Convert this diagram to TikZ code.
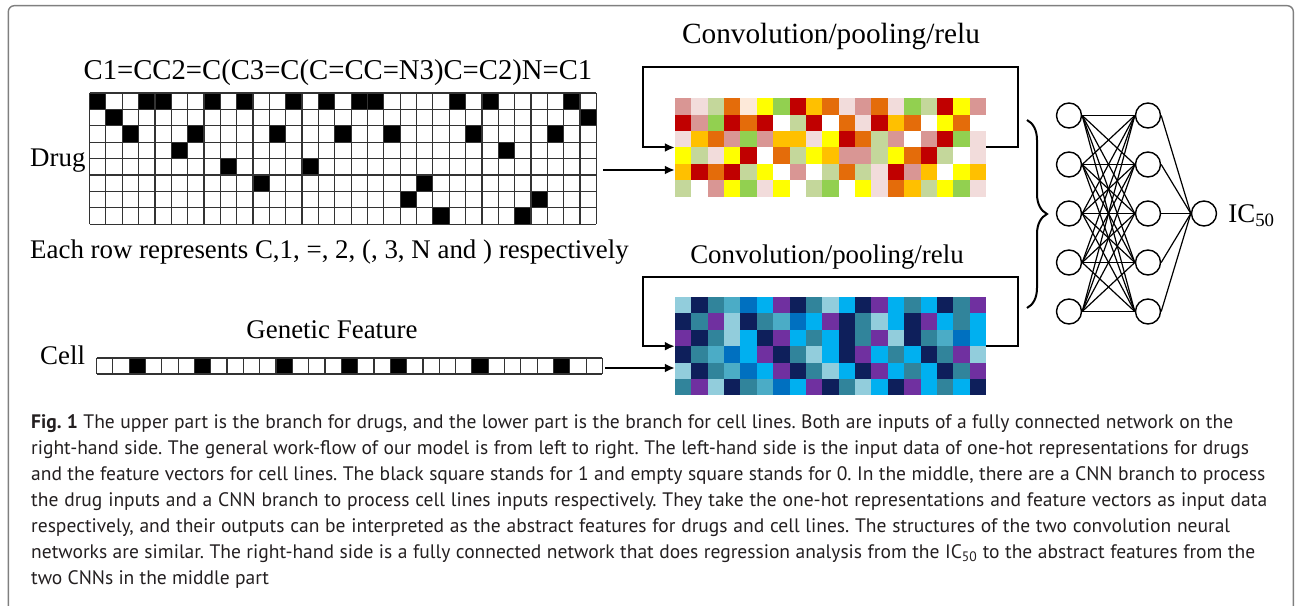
\documentclass[tikz,border=0pt]{standalone}
\usepackage{fontspec}
\setmainfont{Liberation Serif}
\newfontfamily\capfont{PT Sans}
\usetikzlibrary{arrows.meta,decorations.pathreplacing}

% warm palette of the drug feature map
\definecolor{hr}{HTML}{C00000}
\definecolor{ho}{HTML}{E46C0A}
\definecolor{ha}{HTML}{FFC000}
\definecolor{hy}{HTML}{FFFF00}
\definecolor{hg}{HTML}{92D050}
\definecolor{hl}{HTML}{C4D79B}
\definecolor{hp}{HTML}{D99694}
\definecolor{hq}{HTML}{F2DCDB}
\definecolor{he}{HTML}{FDE9D9}
\definecolor{hw}{HTML}{FFFFFF}
% cool palette of the cell-line feature map
\definecolor{bn}{HTML}{0E1F5B}
\definecolor{bt}{HTML}{31849B}
\definecolor{bl}{HTML}{92CDDC}
\definecolor{bm}{HTML}{4BACC6}
\definecolor{bb}{HTML}{0070C0}
\definecolor{bc}{HTML}{00B0F0}
\definecolor{bv}{HTML}{7030A0}
\definecolor{capgray}{HTML}{231F20}
\definecolor{framegray}{HTML}{7F7F7F}

% one caption line, spread to a given width
\newcommand{\capto}[2]{\makebox[#1][s]{#2}}

\begin{document}
\begin{tikzpicture}[x=1bp,y=-1bp,
  lbl/.style={font=\fontsize{27}{30}\selectfont, inner sep=0},
  gridline/.style={draw=black!80, line width=1.2bp},
  link/.style={line width=2bp, -{Latex[length=10bp,width=9bp]}},
  fmap/.style={draw=none, inner sep=0, minimum width=311bp, minimum height=98.4bp},
  neuron/.style={circle, draw, line width=1.4bp, minimum size=25bp, inner sep=0, fill=white},
  syn/.style={line width=1.2bp},
  capline/.style={font=\capfont\fontsize{19.6}{22}\selectfont\frenchspacing, text=capgray, anchor=base west, inner sep=0},
  outline/.style={draw=framegray, line width=1.4bp, rounded corners=6bp}]

\useasboundingbox (0,0) rectangle (1295,606);

% outer frame (open at the bottom)
\draw[outline] (8.3,606) -- (8.3,5.7) -- (1293.3,5.7) -- (1293.3,606);

% ---------------- drug one-hot matrix ----------------
\def\gx{89.5}\def\gy{93}\def\cw{16.35}\def\ch{16.4}
\foreach \cols [count=\r from 0] in {{0,3,4,7,9,12,14,16,17,22,24,29},{1,30},{2,6,11,15,18,23,28},{5,25},{8,13},{10,20},{19,27},{21,26}}
  \foreach \k in \cols
    \fill (\gx+\k*\cw, \gy+\r*\ch) rectangle ++(\cw,\ch);
\foreach \i in {0,...,31}
  \draw[gridline] (\gx+\i*\cw, \gy) -- ++(0, 8*\ch);
\foreach \j in {0,...,8}
  \draw[gridline] (\gx, \gy+\j*\ch) -- ++(31*\cw, 0);
\node[draw=none, inner sep=0, minimum width=506.9bp, minimum height=131.2bp] (drug) at (\gx+15.5*\cw, \gy+4*\ch) {};

\node[lbl, anchor=base, font=\fontsize{28.8}{30}\selectfont] (smiles) at (338,80) {C1=CC2=C(C3=C(C=CC=N3)C=C2)N=C1};
\node[lbl, anchor=base west] (druglbl) at (30,167) {Drug};
\node[lbl, anchor=base west] (rowlbl) at (30,259) {Each row represents C,1, =, 2, (, 3, N and ) respectively};

% ---------------- cell-line feature vector ----------------
\def\vx{96.5}\def\vy{358}\def\vw{16.32}
\foreach \k in {2,6,11,15,18,23,28}
  \fill (\vx+\k*\vw, \vy) rectangle ++(\vw,16);
\foreach \i in {0,...,31}
  \draw[gridline] (\vx+\i*\vw, \vy) -- ++(0,16);
\foreach \j in {0,1}
  \draw[gridline] (\vx, \vy+\j*16) -- ++(31*\vw, 0);
\node[draw=none, inner sep=0, minimum width=505.9bp, minimum height=16bp] (cell) at (\vx+15.5*\vw, \vy+8) {};
\node[lbl, anchor=base] (genlbl) at (332,339) {Genetic Feature};
\node[lbl, anchor=base west] (celllbl) at (40,365) {Cell};

% ---------------- drug feature map ----------------
\def\ax{675}\def\ay{98.3}\def\fw{16.37}\def\fh{16.4}
\foreach \row [count=\j from 0] in {
  {hp,hq,hl,ho,he,hy,hg,hr,ha,ho,hq,hp,ho,hq,hg,hl,hr,hy,hp},
  {hr,hp,hg,hr,ho,hr,hw,hl,hr,hw,ho,hq,hr,ha,ho,hw,hy,ho,hw},
  {hq,ha,ho,hp,hg,hp,ha,ha,hq,hy,hr,ho,hl,hp,hw,hp,hr,hg,hq},
  {hy,hl,hq,hy,hr,hw,ho,hl,hy,ha,hp,hp,hl,hy,ho,hr,hl,hw,hq},
  {ha,hr,ho,hr,hl,hy,hw,hp,hw,hl,ho,hl,hq,hr,hp,ha,hw,hy,ha},
  {hl,hw,hp,hy,hg,hq,hy,hw,hl,hg,hw,hy,hq,ho,ha,hl,hy,hg,hq}}
  \foreach \cc [count=\i from 0] in \row
    \fill[\cc] (\ax+\i*\fw, \ay+\j*\fh) rectangle ++(\fw,\fh);
\node[fmap] (convA) at (\ax+9.5*\fw, \ay+3*\fh) {};

% ---------------- cell-line feature map ----------------
\def\bx{675}\def\by{297}
\foreach \row [count=\j from 0] in {
  {bl,bn,bt,bm,bb,bc,bv,bn,bt,bl,bc,bn,bv,bc,bt,bc,bn,bt,bv},
  {bn,bt,bv,bl,bn,bt,bm,bb,bc,bv,bn,bt,bl,bc,bn,bv,bc,bt,bc},
  {bv,bn,bt,bl,bc,bn,bv,bc,bt,bc,bn,bt,bv,bl,bn,bt,bm,bb,bc},
  {bn,bt,bm,bb,bc,bv,bn,bt,bl,bc,bn,bv,bc,bt,bc,bn,bt,bv,bl},
  {bl,bn,bt,bm,bb,bc,bv,bn,bt,bl,bc,bn,bv,bc,bt,bc,bn,bt,bv},
  {bt,bv,bl,bn,bt,bm,bb,bc,bv,bn,bt,bl,bc,bn,bv,bc,bt,bc,bn}}
  \foreach \cc [count=\i from 0] in \row
    \fill[\cc] (\bx+\i*\fw, \by+\j*\fh) rectangle ++(\fw,\fh);
\node[fmap] (convB) at (\bx+9.5*\fw, \by+3*\fh) {};

\node[lbl, anchor=base, font=\fontsize{29.4}{31}\selectfont] (convAlbl) at (831,44) {Convolution/pooling/relu};
\node[lbl, anchor=base] (convBlbl) at (827,264) {Convolution/pooling/relu};

% ---------------- inputs and recurrent loops ----------------
\coordinate (dIn) at (603,170);
\coordinate (cIn) at (605,368);
\draw[link] (dIn) -- (dIn -| convA.west);
\draw[link] (cIn) -- (cIn -| convB.west);

\coordinate (aR) at (1018,67);  \coordinate (aL) at (643,67);
\coordinate (bR) at (1018,277); \coordinate (bL) at (643,277);
\draw[link] (convA.east) -- (aR |- convA.east) -- (aR) -- (aL) -- (aL |- convA.west) -- (convA.west);
\draw[link] (convB.east) -- (bR |- convB.east) -- (bR) -- (bL) -- (bL |- convB.west) -- (convB.west);

% ---------------- fully connected network ----------------
\foreach \n in {1,...,5} {
  \node[neuron] (p\n) at (1069, 66.5+49*\n) {};
  \node[neuron] (q\n) at (1148, 66.5+49*\n) {};
}
\node[neuron] (ic) at (1204, 213.5) {};
\foreach \a in {1,...,5} {
  \foreach \b in {1,...,5}
    \draw[syn] (p\a.east) -- (q\b.west);
  \draw[syn] (q\a.east) -- (ic.west);
}
\node[lbl, anchor=base west] (iclbl) at ([xshift=11bp]ic.east |- 0,223) {IC\textsubscript{50}};

\coordinate (brT) at (1027,120);
\coordinate (brB) at (1027,308);
\draw[line width=2bp, decorate, decoration={brace, amplitude=20bp}] (brT) -- (brB);

% ---------------- caption ----------------
\node[capline] (cap1) at (31,428) {\capto{1202bp}{\textbf{Fig. 1} The upper part is the branch for drugs, and the lower part is the branch for cell lines. Both are inputs of a fully connected network on the}};
\node[capline] (cap2) at (31,454) {\capto{1218bp}{right-hand side. The general work-flow of our model is from left to right. The left-hand side is the input data of one-hot representations for drugs}};
\node[capline] (cap3) at (31,480) {\capto{1234bp}{and the feature vectors for cell lines. The black square stands for 1 and empty square stands for 0. In the middle, there are a CNN branch to process}};
\node[capline] (cap4) at (31,506) {\capto{1236bp}{the drug inputs and a CNN branch to process cell lines inputs respectively. They take the one-hot representations and feature vectors as input data}};
\node[capline] (cap5) at (31,532) {\capto{1199bp}{respectively, and their outputs can be interpreted as the abstract features for drugs and cell lines. The structures of the two convolution neural}};
\node[capline] (cap6) at (31,558) {\capto{1224bp}{networks are similar. The right-hand side is a fully connected network that does regression analysis from the IC\textsubscript{50} to the abstract features from the}};
\node[capline] (cap7) at (31,584) {two CNNs in the middle part};
\end{tikzpicture}
\end{document}
